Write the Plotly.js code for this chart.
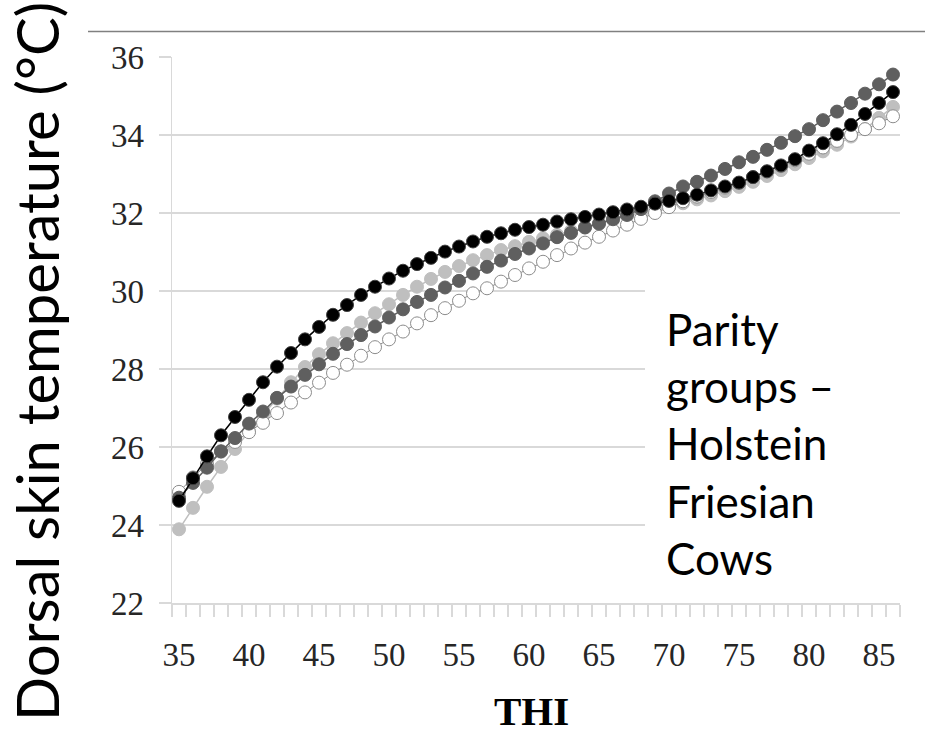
<!DOCTYPE html>
<html>
<head>
<meta charset="utf-8">
<script src="https://cdn.plot.ly/plotly-3.0.1.min.js"></script>
<style>html,body{margin:0;padding:0;background:#fff;}#chart{width:925px;height:741px;}</style>
</head>
<body>
<div id="chart"></div>
<script>
// THI categories 35..86
const thi = [35,36,37,38,39,40,41,42,43,44,45,46,47,48,49,50,51,52,53,54,55,56,57,58,59,60,
             61,62,63,64,65,66,67,68,69,70,71,72,73,74,75,76,77,78,79,80,81,82,83,84,85,86];

const blackSeries = [24.62,25.20,25.76,26.30,26.77,27.21,27.66,28.06,28.41,28.76,29.08,29.39,29.64,29.90,30.11,30.32,30.52,30.69,30.85,31.01,31.14,
                     31.27,31.39,31.48,31.57,31.64,31.70,31.78,31.84,31.90,31.96,32.02,32.09,32.16,32.24,32.31,32.38,32.47,32.58,32.68,32.78,
                     32.92,33.07,33.22,33.38,33.60,33.79,34.02,34.26,34.54,34.82,35.10];

const darkGraySeries = [24.70,25.08,25.47,25.89,26.23,26.60,26.91,27.26,27.55,27.85,28.12,28.39,28.64,28.87,29.09,29.32,29.53,29.72,29.90,30.09,30.26,
                        30.45,30.62,30.78,30.95,31.09,31.22,31.38,31.49,31.63,31.73,31.84,31.95,32.10,32.30,32.50,32.68,32.80,32.96,33.13,33.30,
                        33.44,33.62,33.80,33.97,34.15,34.38,34.60,34.82,35.06,35.30,35.55];

const lightGraySeries = [23.89,24.44,24.98,25.49,25.95,26.40,26.83,27.24,27.66,28.05,28.38,28.66,28.92,29.19,29.43,29.66,29.90,30.11,30.31,30.49,30.64,
                         30.79,30.92,31.05,31.15,31.26,31.35,31.44,31.54,31.63,31.72,31.82,31.92,32.00,32.08,32.16,32.25,32.35,32.45,32.56,32.67,
                         32.80,32.95,33.10,33.25,33.41,33.58,33.75,33.96,34.15,34.44,34.72];

const openSeries = [24.85,25.22,25.56,25.88,26.13,26.38,26.62,26.87,27.14,27.40,27.65,27.90,28.11,28.34,28.56,28.76,28.96,29.17,29.38,29.56,29.75,
                    29.94,30.07,30.24,30.41,30.58,30.75,30.92,31.09,31.24,31.39,31.55,31.70,31.85,32.00,32.15,32.30,32.42,32.54,32.65,32.77,
                    32.92,33.06,33.20,33.35,33.52,33.68,33.85,34.00,34.15,34.30,34.48];

const yTicks = [22,24,26,28,30,32,34,36];
const xTicks = [35,40,45,50,55,60,65,70,75,80,85];
const yTitle = 'Dorsal skin temperature (°C)';
const xTitle = 'THI';
const noteLines = ['Parity', 'groups –', 'Holstein', 'Friesian', 'Cows'];

const W = 925, H = 741, L = 172, R = 25, T = 56.5, B = 137.5;
const pw = W - L - R, ph = H - T - B;
const px = v => (v - L) / pw;        // pixel x -> paper x
const py = v => 1 - (v - T) / ph;    // pixel y -> paper y

function series(y, fill, lineColor, lineW, outline) {
  return {
    x: thi, y: y, type: 'scatter', mode: 'lines+markers',
    line: {color: lineColor, width: lineW},
    marker: {size: 13, color: fill, line: {color: outline, width: 1}},
    hoverinfo: 'x+y', showlegend: false
  };
}

const data = [
  series(lightGraySeries, '#bfbfbf', '#bfbfbf', 1.5, '#bfbfbf'),
  series(openSeries, '#ffffff', '#8c8c8c', 1, '#8c8c8c'),
  series(darkGraySeries, '#5f5f5f', '#5f5f5f', 1.5, '#5f5f5f'),
  series(blackSeries, '#000000', '#000000', 1.5, '#404040')
];

const serif = '"Liberation Serif", "Times New Roman", serif';
const sans = 'Lato, "Noto Sans", sans-serif';

const layout = {
  width: W, height: H,
  margin: {l: L, r: R, t: T, b: B},
  paper_bgcolor: '#ffffff', plot_bgcolor: '#ffffff',
  showlegend: false,
  xaxis: {
    range: [34.5, 86.5], tickmode: 'array', tickvals: xTicks,
    ticks: '', showgrid: false, zeroline: false,
    showline: true, linecolor: '#d9d9d9', linewidth: 1.5,
    tickfont: {family: serif, size: 33, color: '#262626'},
    ticklabelstandoff: 22,
    minor: {tickmode: 'linear', tick0: 34.5, dtick: 1, ticks: 'outside', ticklen: 12, tickcolor: '#d9d9d9', tickwidth: 1.5, showgrid: false},
    automargin: false, fixedrange: true
  },
  yaxis: {
    range: [22, 36], tickmode: 'array', tickvals: yTicks,
    ticks: 'outside', ticklen: 12, tickcolor: '#d9d9d9', tickwidth: 1.5,
    showgrid: true, gridcolor: '#d9d9d9', gridwidth: 1.5,
    zeroline: false, showline: true, linecolor: '#d9d9d9', linewidth: 1.5,
    tickfont: {family: serif, size: 33, color: '#262626'},
    ticklabelstandoff: 8,
    automargin: false, fixedrange: true
  },
  shapes: [
    {type: 'rect', xref: 'paper', yref: 'paper', x0: px(645), x1: 1.0, y0: py(598), y1: py(262),
     fillcolor: '#ffffff', line: {width: 0}, layer: 'above'},
    {type: 'line', xref: 'paper', yref: 'paper', x0: px(88), x1: px(925), y0: py(31), y1: py(31),
     line: {color: '#808080', width: 1.5}}
  ],
  annotations: [
    {xref: 'paper', yref: 'paper', x: px(664), y: py(301), xanchor: 'left', yanchor: 'top',
     align: 'left', showarrow: false, text: noteLines.join('<br>'),
     font: {family: sans, size: 44, color: '#000000'}},
    {xref: 'paper', yref: 'paper', x: px(37), y: py(362), xanchor: 'center', yanchor: 'middle',
     textangle: -90, showarrow: false, text: yTitle,
     font: {family: sans, size: 58, color: '#000000'}},
    {xref: 'paper', yref: 'paper', x: px(531), y: py(712), xanchor: 'center', yanchor: 'middle',
     showarrow: false, text: '<b>' + xTitle + '</b>',
     font: {family: serif, size: 41, color: '#000000'}}
  ]
};

Plotly.newPlot('chart', data, layout, {displayModeBar: false, staticPlot: true});
</script>
</body>
</html>
